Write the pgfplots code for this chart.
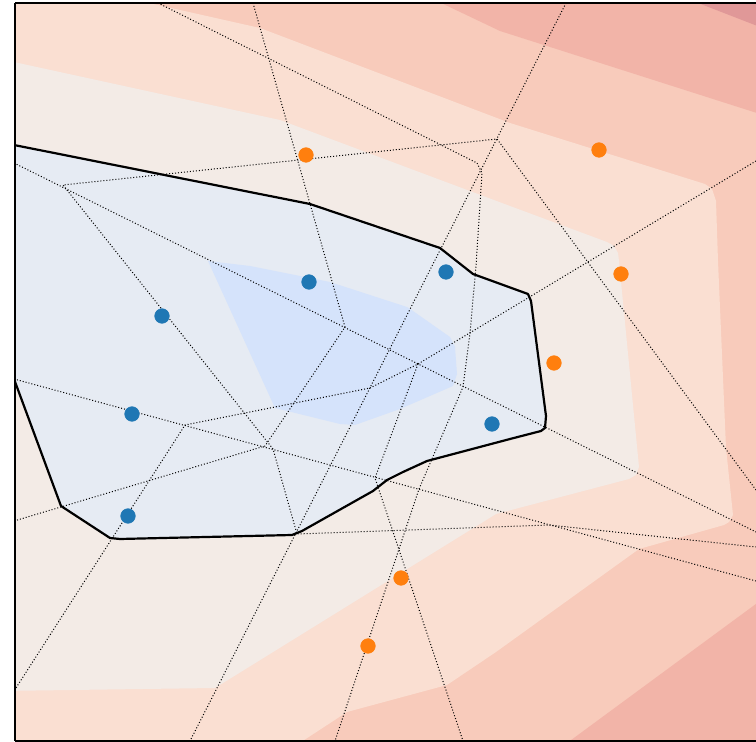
\documentclass[border=0pt]{standalone}
\usepackage{pgfplots}
\pgfplotsset{compat=1.18}

% contour level colours (red side to blue side)
\definecolor{lvlA}{RGB}{224,152,152}
\definecolor{lvlB}{RGB}{242,180,168}
\definecolor{lvlC}{RGB}{248,203,187}
\definecolor{lvlD}{RGB}{250,223,210}
\definecolor{lvlE}{RGB}{243,235,230}
\definecolor{lvlF}{RGB}{230,235,243}
\definecolor{lvlG}{RGB}{213,227,251}
\definecolor{ptblue}{RGB}{31,119,180}
\definecolor{ptorange}{RGB}{255,127,14}

\begin{document}
\begin{tikzpicture}
\useasboundingbox (-7.5pt,-0.5pt) rectangle (370.5pt,370.5pt);
\begin{axis}[
  scale only axis,
  width=370.5pt, height=369pt,
  xmin=15, xmax=756, ymin=2, ymax=740,
  y dir=reverse,
  xtick=\empty, ytick=\empty,
  separate axis lines,
  axis x line*=box, axis y line*=left,
  axis line style={line width=0.75pt},
  axis on top,
  clip=true,
]
% ---- filled contour bands ----
\addplot[fill=lvlC, draw=none] coordinates {(0,0) (760,0) (760,745) (0,745)} -- cycle;
\addplot[fill=lvlB, draw=none] coordinates {(437,0) (760,0) (760,113) (500,30)} -- cycle;
\addplot[fill=lvlA, draw=none] coordinates {(693,0) (760,0) (760,26)} -- cycle;
\addplot[fill=lvlB, draw=none] coordinates {(563,745) (760,600) (760,745)} -- cycle;
\addplot[fill=lvlD, draw=none] coordinates {
  (0,0) (140,0) (260,27) (510,122) (705,183) (712,188) (716,200) (718,260)
  (726,447) (733,514) (729,521) (724,524) (639,548) (496,651) (447,684)
  (347,711) (295,745) (0,745)} -- cycle;
\addplot[fill=lvlE, draw=none] coordinates {
  (0,58) (280,119) (510,205) (607,241) (614,245) (618,252) (619,260)
  (639,466) (636,474) (629,478) (496,513) (215,687) (0,690)} -- cycle;
\addplot[fill=lvlF, draw=none] coordinates {
  (0,141) (310,203) (440,247) (473,273) (528,293) (531,300) (546,415)
  (545,427) (541,430) (510,438) (427,460) (403,471) (387,479) (373,490)
  (302,530) (292,534) (120,538) (110,537) (61,505) (14,378) (0,378)} -- cycle;
\addplot[fill=lvlG, draw=none] coordinates {
  (208,260) (250,265) (330,281) (407,306) (413,310) (450,336) (455,346)
  (457,373) (453,385) (400,408) (355,424) (340,423) (275,407)} -- cycle;

% ---- activation boundaries (dotted) ----
\pgfplotsset{every axis plot/.append style={}}
\addplot[black, line width=0.5pt, densely dotted] coordinates {(14,162) (756,531)};
\addplot[black, line width=0.5pt, densely dotted] coordinates {(14,378) (756,580)};
\addplot[black, line width=0.5pt, densely dotted] coordinates {(566,2) (190,740)};
\addplot[black, line width=0.5pt, densely dotted] coordinates {(253,2) (345,326) (265,445) (14,520)};
\addplot[black, line width=0.5pt, densely dotted] coordinates {
  (158,2) (477,162) (482,172) (476,265) (470,332) (463,386) (419,488) (335,740)};
\addplot[black, line width=0.5pt, densely dotted] coordinates {
  (756,160) (418,363) (370,387) (185,424) (14,690)};
\addplot[black, line width=0.5pt, densely dotted] coordinates {
  (756,489) (497,138) (63,184) (273,448) (297,533) (549,524) (756,546)};
\addplot[black, line width=0.5pt, densely dotted] coordinates {
  (418,363) (375,477) (463,740)};

% ---- decision boundary ----
\addplot[black, line width=1.1pt, line join=round] coordinates {
  (14,144) (310,203) (440,247) (473,273) (528,293) (531,300) (546,415)
  (545,427) (541,430) (510,438) (427,460) (403,471) (387,479) (373,490)
  (302,530) (292,534) (120,538) (110,537) (61,505) (14,378)};

% ---- samples ----
\addplot[only marks, mark=*, mark size=3.6pt, color=ptblue] coordinates {
  (309,281) (446,271) (162,315) (132,413) (128,515) (492,423)};
\addplot[only marks, mark=*, mark size=3.6pt, color=ptorange] coordinates {
  (306,154) (599,149) (621,273) (554,362) (401,577) (368,645)};
\end{axis}
\end{tikzpicture}
\end{document}
